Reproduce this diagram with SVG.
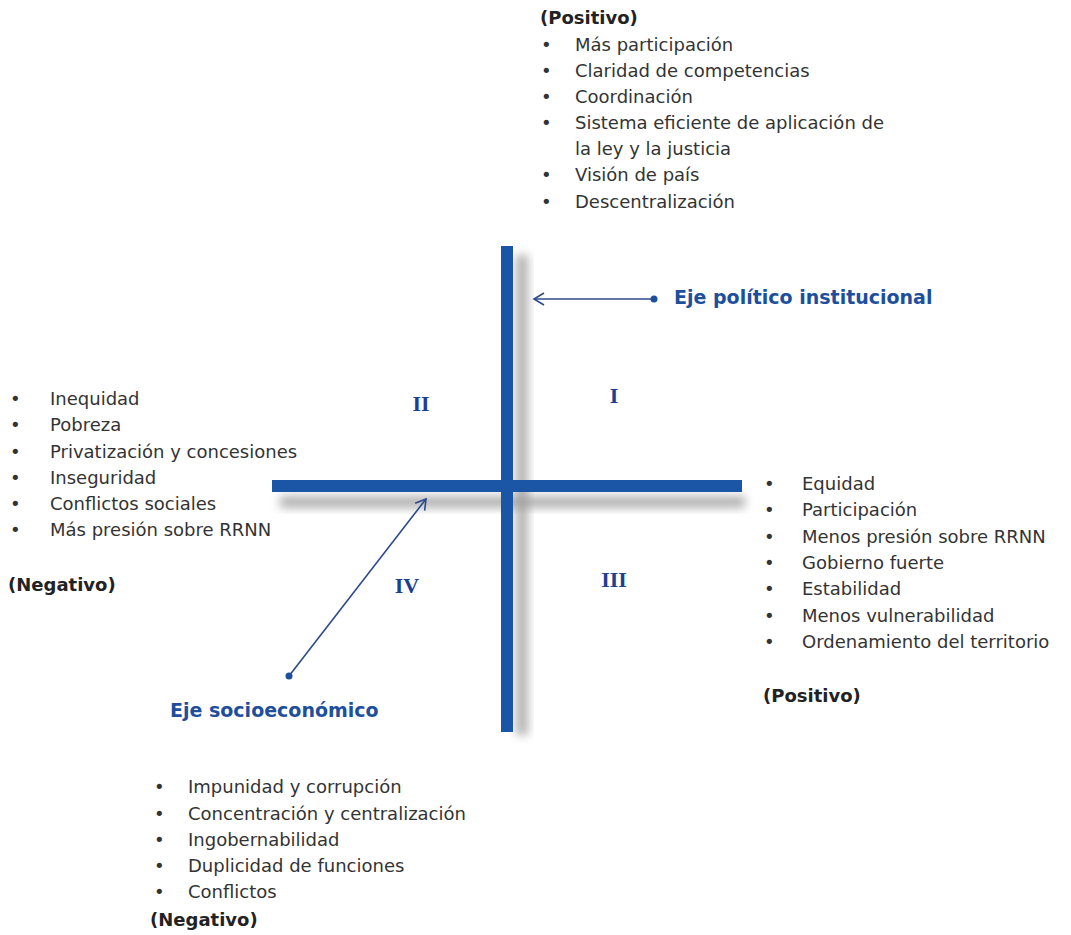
<svg xmlns="http://www.w3.org/2000/svg" width="1071" height="935" viewBox="0 0 1071 935">
<defs>
<style>
.t{font-family:"DejaVu Sans","Liberation Sans",sans-serif;font-size:18px;fill:#333}
.b{font-family:"DejaVu Sans","Liberation Sans",sans-serif;font-size:18px;font-weight:bold;fill:#222}
.ax{font-family:"DejaVu Sans","Liberation Sans",sans-serif;font-size:19px;font-weight:bold;fill:#1d4f9c}
.rn{font-family:"Liberation Serif","Times New Roman",serif;font-size:22px;font-weight:bold;fill:#1d3f8f;text-anchor:middle}
.bar{fill:#1a56a5}
.conn{stroke:#2b4a8a;stroke-width:1.6;fill:none}
</style>
<filter id="sh" x="-50%" y="-50%" width="200%" height="200%"><feGaussianBlur stdDeviation="5"/></filter>
<marker id="ah" markerWidth="14" markerHeight="14" refX="11" refY="7" orient="auto" markerUnits="userSpaceOnUse">
<path d="M1,1 L11,7 L1,13" fill="none" stroke="#2b4a8a" stroke-width="1.6"/>
</marker>
<marker id="dot" markerWidth="8" markerHeight="8" refX="4" refY="4" markerUnits="userSpaceOnUse">
<circle cx="4" cy="4" r="3.5" fill="#1d4f9c"/>
</marker>
</defs>
<rect width="1071" height="935" fill="#ffffff"/>
<g id="axes">
<rect x="516" y="255" width="12" height="480" fill="#999" filter="url(#sh)" opacity="0.75"/>
<rect x="280" y="496" width="465" height="12" fill="#999" filter="url(#sh)" opacity="0.75"/>
<rect class="bar" x="501" y="246" width="12" height="486"/>
<rect class="bar" x="272" y="480" width="470" height="12"/>
</g>
<g id="connectors">
<line class="conn" x1="654" y1="299" x2="534" y2="299" marker-start="url(#dot)" marker-end="url(#ah)"/>
<line class="conn" x1="289" y1="676" x2="426" y2="499" marker-start="url(#dot)" marker-end="url(#ah)"/>
</g>
<g id="axis-labels">
<text class="ax" x="674" y="304">Eje político institucional</text>
<text class="ax" x="170" y="717">Eje socioeconómico</text>
</g>
<g id="quadrants">
<text class="rn" x="614" y="403">I</text>
<text class="rn" x="421" y="411">II</text>
<text class="rn" x="614" y="587">III</text>
<text class="rn" x="407" y="593">IV</text>
</g>
<g id="top-list">
<text class="b" x="540" y="24">(Positivo)</text>
<text class="t" x="541" y="51">•</text><text class="t" x="575" y="51">Más participación</text>
<text class="t" x="541" y="77">•</text><text class="t" x="575" y="77">Claridad de competencias</text>
<text class="t" x="541" y="103">•</text><text class="t" x="575" y="103">Coordinación</text>
<text class="t" x="541" y="129">•</text><text class="t" x="575" y="129">Sistema eficiente de aplicación de</text>
<text class="t" x="575" y="155">la ley y la justicia</text>
<text class="t" x="541" y="181">•</text><text class="t" x="575" y="181">Visión de país</text>
<text class="t" x="541" y="208">•</text><text class="t" x="575" y="208">Descentralización</text>
</g>
<g id="left-list">
<text class="t" x="10" y="405">•</text><text class="t" x="50" y="405">Inequidad</text>
<text class="t" x="10" y="431">•</text><text class="t" x="50" y="431">Pobreza</text>
<text class="t" x="10" y="458">•</text><text class="t" x="50" y="458">Privatización y concesiones</text>
<text class="t" x="10" y="484">•</text><text class="t" x="50" y="484">Inseguridad</text>
<text class="t" x="10" y="510">•</text><text class="t" x="50" y="510">Conflictos sociales</text>
<text class="t" x="10" y="536">•</text><text class="t" x="50" y="536">Más presión sobre RRNN</text>
<text class="b" x="8" y="591">(Negativo)</text>
</g>
<g id="right-list">
<text class="t" x="764" y="490">•</text><text class="t" x="802" y="490">Equidad</text>
<text class="t" x="764" y="516">•</text><text class="t" x="802" y="516">Participación</text>
<text class="t" x="764" y="543">•</text><text class="t" x="802" y="543">Menos presión sobre RRNN</text>
<text class="t" x="764" y="569">•</text><text class="t" x="802" y="569">Gobierno fuerte</text>
<text class="t" x="764" y="595">•</text><text class="t" x="802" y="595">Estabilidad</text>
<text class="t" x="764" y="622">•</text><text class="t" x="802" y="622">Menos vulnerabilidad</text>
<text class="t" x="764" y="648">•</text><text class="t" x="802" y="648">Ordenamiento del territorio</text>
<text class="b" x="763" y="702">(Positivo)</text>
</g>
<g id="bottom-list">
<text class="t" x="154" y="793">•</text><text class="t" x="188" y="793">Impunidad y corrupción</text>
<text class="t" x="154" y="820">•</text><text class="t" x="188" y="820">Concentración y centralización</text>
<text class="t" x="154" y="846">•</text><text class="t" x="188" y="846">Ingobernabilidad</text>
<text class="t" x="154" y="872">•</text><text class="t" x="188" y="872">Duplicidad de funciones</text>
<text class="t" x="154" y="898">•</text><text class="t" x="188" y="898">Conflictos</text>
<text class="b" x="150" y="926">(Negativo)</text>
</g>
</svg>
